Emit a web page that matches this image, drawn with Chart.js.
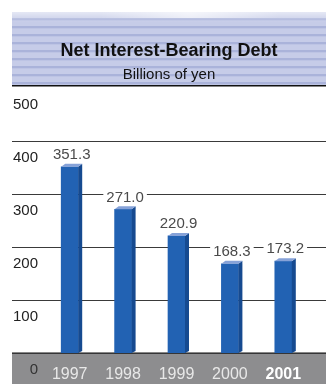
<!DOCTYPE html>
<html>
<head>
<meta charset="utf-8">
<script src="https://cdn.jsdelivr.net/npm/chart.js@4/dist/chart.umd.min.js"></script>
<style>
html,body{margin:0;padding:0;background:#fff;}
#wrap{width:326px;height:384px;position:relative;}
</style>
</head>
<body>
<div id="wrap"><canvas id="c" width="326" height="384"></canvas></div>
<script>
const title = 'Net Interest-Bearing Debt';
const subtitle = 'Billions of yen';
const years = ['1997', '1998', '1999', '2000', '2001'];
const debt = [351.3, 271.0, 220.9, 168.3, 173.2];
const valueLabels = ['351.3', '271.0', '220.9', '168.3', '173.2'];
const yTicks = [0, 100, 200, 300, 400, 500];
const gridValues = [100, 200, 300, 400];

const FONT = '"Liberation Sans", Arial, Helvetica, sans-serif';
const LEFT = 12, RIGHT = 326;

const decor = {
  id: 'decor',
  beforeDraw(chart) {
    const ctx = chart.ctx;
    const ca = chart.chartArea;
    ctx.save();
    // header band with stripes
    const top = 12, bot = 85;
    ctx.fillStyle = '#c6cce8';
    ctx.fillRect(LEFT, top, RIGHT - LEFT, bot - top);
    ctx.fillStyle = '#aab3da';
    for (let y = top + 6; y < bot; y += 8) {
      ctx.fillRect(LEFT, y, RIGHT - LEFT, 2.3);
    }
    // whitish glow at top
    const g = ctx.createLinearGradient(0, top, 0, top + 10);
    g.addColorStop(0, 'rgba(255,255,255,0.55)');
    g.addColorStop(1, 'rgba(255,255,255,0)');
    ctx.fillStyle = g;
    ctx.fillRect(LEFT, top, RIGHT - LEFT, 10);
    const g2 = ctx.createRadialGradient(190, top, 2, 190, top, 90);
    g2.addColorStop(0, 'rgba(255,255,255,0.6)');
    g2.addColorStop(1, 'rgba(255,255,255,0)');
    ctx.fillStyle = g2;
    ctx.fillRect(LEFT, top, RIGHT - LEFT, 6);
    // header bottom line
    ctx.fillStyle = '#111';
    ctx.fillRect(LEFT, bot, RIGHT - LEFT, 1.5);
    // titles
    ctx.fillStyle = '#111';
    ctx.textAlign = 'center';
    ctx.textBaseline = 'middle';
    ctx.font = 'bold 18px ' + FONT;
    ctx.fillText(title, 169, 51);
    ctx.font = '15px ' + FONT;
    ctx.fillText(subtitle, 169, 75);
    // gray category band
    ctx.fillStyle = '#8d8d8f';
    ctx.fillRect(LEFT, ca.bottom, RIGHT - LEFT, chart.height - ca.bottom);
    ctx.fillStyle = '#111';
    ctx.fillRect(LEFT, ca.bottom - 0.5, RIGHT - LEFT, 1.2);
    // y labels
    const ys = chart.scales.y;
    ctx.font = '15px ' + FONT;
    ctx.textAlign = 'right';
    yTicks.forEach(v => {
      ctx.fillStyle = v === 0 ? '#333' : '#222';
      ctx.fillText(String(v), 38, ys.getPixelForValue(v) + 16.5);
    });
    ctx.restore();
  },
  beforeDatasetsDraw(chart) {
    const ctx = chart.ctx;
    const ys = chart.scales.y;
    ctx.save();
    ctx.strokeStyle = '#3a3a3a';
    ctx.lineWidth = 1;
    gridValues.forEach(v => {
      const y = Math.round(ys.getPixelForValue(v)) + 0.5;
      ctx.beginPath();
      ctx.moveTo(LEFT, y);
      ctx.lineTo(RIGHT, y);
      ctx.stroke();
    });
    ctx.restore();
  },
  afterDatasetsDraw(chart) {
    const ctx = chart.ctx;
    const meta = chart.getDatasetMeta(0);
    ctx.save();
    const d = 4, h = 3;
    meta.data.forEach((bar, i) => {
      const p = bar.getProps(['x', 'y', 'base', 'width'], true);
      const l = p.x - p.width / 2, r = p.x + p.width / 2;
      // side face
      ctx.fillStyle = '#164a90';
      ctx.beginPath();
      ctx.moveTo(r, p.y);
      ctx.lineTo(r + d, p.y - h);
      ctx.lineTo(r + d, p.base - 2);
      ctx.lineTo(r, p.base);
      ctx.closePath();
      ctx.fill();
      // top face
      ctx.fillStyle = '#86a2d8';
      ctx.beginPath();
      ctx.moveTo(l, p.y);
      ctx.lineTo(l + d, p.y - h);
      ctx.lineTo(r + d, p.y - h);
      ctx.lineTo(r, p.y);
      ctx.closePath();
      ctx.fill();
      // value label
      ctx.font = '15px ' + FONT;
      const txt = valueLabels[i];
      const w = ctx.measureText(txt).width;
      const cx = p.x + 2, cy = p.y - 12;
      ctx.fillStyle = '#fff';
      ctx.fillRect(cx - w / 2 - 3, cy - 6, w + 6, 12);
      ctx.fillStyle = '#4a4a4a';
      ctx.textAlign = 'center';
      ctx.textBaseline = 'middle';
      ctx.fillText(txt, cx, cy);
    });
    ctx.restore();
  }
};

new Chart(document.getElementById('c'), {
  type: 'bar',
  data: {
    labels: years,
    datasets: [{
      data: debt,
      backgroundColor: '#2262b3',
      borderWidth: 0,
      barThickness: 17
    }]
  },
  options: {
    responsive: false,
    animation: false,
    devicePixelRatio: 1,
    layout: { padding: { top: 88, left: 43, right: 16, bottom: 0 } },
    plugins: { legend: { display: false }, tooltip: { enabled: false } },
    scales: {
      y: {
        display: false,
        min: 0,
        max: 500
      },
      x: {
        grid: { display: false, drawTicks: false },
        border: { display: false },
        afterFit: s => { s.height = 31; },
        ticks: {
          padding: 12,
          color: ctx => ctx.index === 4 ? '#ffffff' : '#e8e8e8',
          font: ctx => ({ family: FONT, size: 16, weight: ctx.index === 4 ? 'bold' : 'normal' })
        }
      }
    }
  },
  plugins: [decor]
});
</script>
</body>
</html>
